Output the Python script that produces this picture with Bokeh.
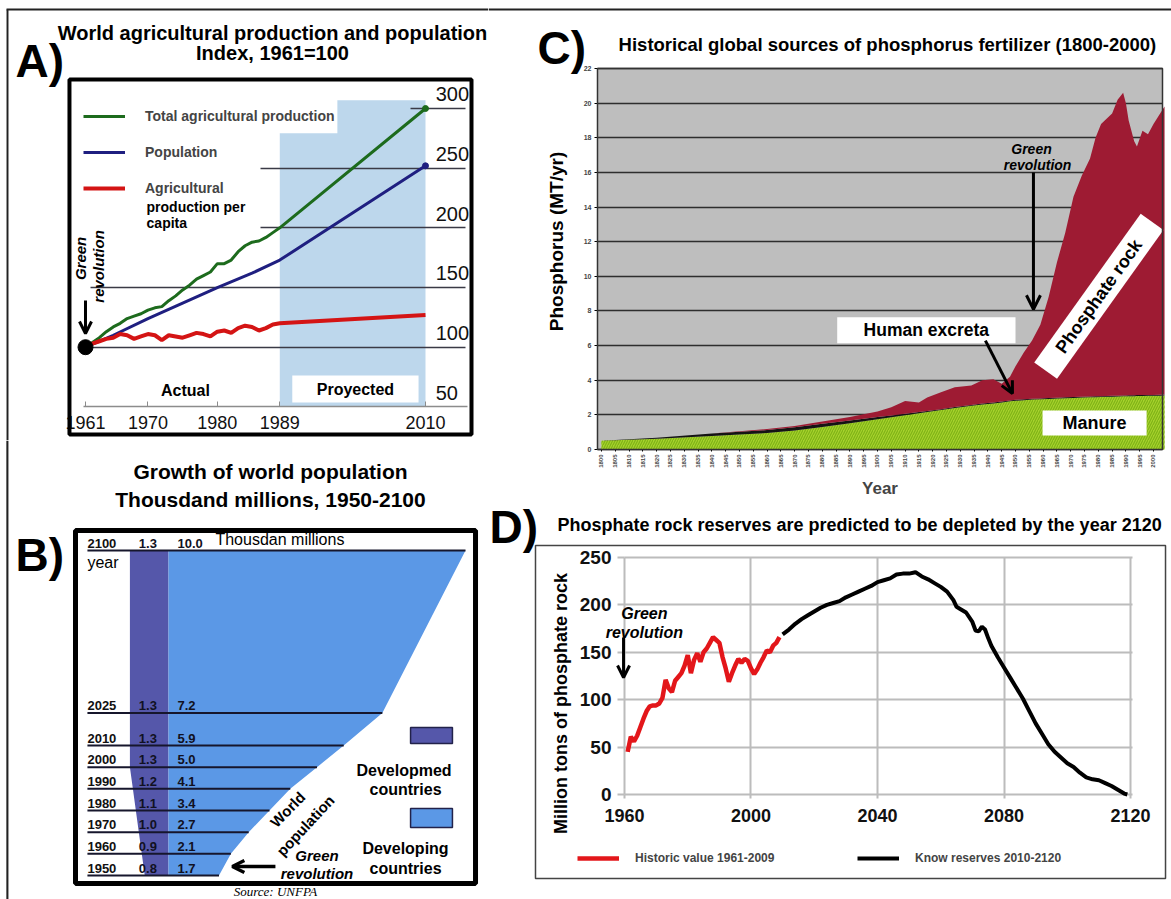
import numpy as np
from bokeh.plotting import figure
from bokeh.models import (Range1d, LinearAxis, FixedTicker, Grid, Label, Arrow,
                          OpenHead, BoxAnnotation, Legend, LegendItem)
from bokeh.layouts import row, column
from bokeh.embed import file_html
from bokeh.resources import INLINE
from bokeh.core.properties import value

FONT = "Liberation Sans"

# ---------------- Panel A data ----------------
a_years = [1961, 1962, 1963, 1964, 1965, 1966, 1967, 1968, 1969, 1970,
           1971, 1972, 1973, 1974, 1975, 1976, 1977, 1978, 1979, 1980,
           1981, 1982, 1983, 1984, 1985, 1986, 1987, 1988, 1989, 2010]
a_total = [100, 104, 108, 113, 117, 120, 124, 126, 128, 131,
           133, 134, 139, 143, 148, 152, 157, 160, 163, 170,
           170, 173, 180, 185, 188, 189, 192, 196, 200, 300]
a_capita = [100, 103, 105, 107, 108, 111, 110, 107, 109, 111,
            110, 106, 110, 109, 108, 110, 112, 111, 109, 113,
            114, 112, 116, 118, 117, 114, 116, 119, 120, 127]
a_pop_years = [1961, 1965, 1970, 1975, 1980, 1985, 1989, 2010]
a_pop = [100, 110, 124, 137, 150, 162, 173, 252]
a_xticks = [1961, 1970, 1980, 1989, 2010]
a_yticks = [50, 100, 150, 200, 250, 300]

# ---------------- Panel B data ----------------
b_years = [1950, 1960, 1970, 1980, 1990, 2000, 2010, 2025, 2100]
b_developed = [0.8, 0.9, 1.0, 1.1, 1.2, 1.3, 1.3, 1.3, 1.3]
b_world = [1.7, 2.1, 2.7, 3.4, 4.1, 5.0, 5.9, 7.2, 10.0]

# ---------------- Panel C data ----------------
c_years = [1800, 1820, 1840, 1850, 1860, 1870, 1880, 1890, 1900,
           1905, 1910, 1915, 1918, 1923, 1928, 1934, 1938, 1942, 1945,
           1948, 1950, 1953, 1956, 1959, 1962, 1965, 1968, 1971, 1974,
           1977, 1979, 1981, 1983, 1985, 1987, 1989, 1990, 1991, 1993,
           1994, 1996, 1998, 2000, 2002, 2004]
c_manure = [0.50, 0.62, 0.78, 0.86, 0.95, 1.10, 1.30, 1.52, 1.75,
            1.86, 1.98, 2.10, 2.16, 2.28, 2.40, 2.52, 2.60, 2.66, 2.72,
            2.78, 2.82, 2.85, 2.88, 2.90, 2.92, 2.94, 2.96, 2.98, 3.00,
            3.01, 3.02, 3.03, 3.04, 3.05, 3.06, 3.07, 3.07, 3.08, 3.08,
            3.09, 3.09, 3.10, 3.10, 3.11, 3.12]
c_excreta = [0.00, 0.06, 0.14, 0.16, 0.17, 0.18, 0.18, 0.16, 0.12,
             0.10, 0.08, 0.06, 0.06, 0.05, 0.05, 0.05, 0.05, 0.05, 0.05,
             0.05, 0.05, 0.05, 0.05, 0.05, 0.05, 0.05, 0.05, 0.05, 0.05,
             0.05, 0.05, 0.05, 0.05, 0.05, 0.05, 0.05, 0.05, 0.05, 0.05,
             0.05, 0.05, 0.05, 0.05, 0.05, 0.05]
c_rock = [0.00, 0.00, 0.00, 0.04, 0.06, 0.08, 0.14, 0.20, 0.33,
          0.48, 0.74, 0.56, 0.78, 0.97, 1.15, 1.13, 1.35, 1.34, 1.03,
          1.37, 1.93, 2.70, 3.37, 4.25, 5.83, 7.81, 9.49, 11.57, 12.75,
          13.74, 14.93, 15.72, 16.01, 16.30, 17.09, 17.48, 16.88, 15.87, 14.67,
          14.36, 15.26, 15.05, 15.65, 16.14, 16.63]
c_xticks = list(range(1800, 2001, 5))
c_yticks = list(range(0, 23, 2))

# ---------------- Panel D data ----------------
d_hist_years = list(range(1961, 2010))
d_hist = [45, 61, 56, 62, 71, 80, 88, 93, 94, 94,
          96, 102, 121, 112, 108, 120, 124, 128, 136, 147,
          128, 142, 149, 140, 150, 154, 160, 166, 163, 160,
          145, 133, 119, 128, 136, 143, 139, 143, 141, 133,
          127, 132, 139, 145, 152, 150, 157, 160, 166]
d_res_years = [2010, 2012, 2014, 2016, 2018, 2020, 2022, 2024, 2026, 2028,
               2030, 2032, 2034, 2036, 2038, 2040, 2042, 2044, 2046, 2048,
               2050, 2052, 2054, 2056, 2058, 2060, 2062,
               2064, 2065, 2066, 2068, 2070, 2071, 2072, 2073, 2074, 2075, 2076, 2078,
               2080, 2082, 2084, 2086, 2088, 2090, 2092, 2094, 2096, 2098,
               2100, 2102, 2104, 2106, 2108, 2110, 2112, 2114, 2116, 2118, 2119]
d_res = [169, 174, 180, 185, 189, 193, 197, 200, 202, 204,
         208, 211, 214, 217, 220, 224, 226, 228, 232, 233,
         233, 234.5, 230, 227, 223, 219, 214,
         205, 198, 196, 192, 182, 173, 172, 177, 174, 165, 157, 145,
         134, 123, 112, 101, 88, 75, 64, 53, 45, 39,
         33, 29, 23, 18, 16, 15, 12, 9, 5, 1, 0]
d_xticks = [1960, 2000, 2040, 2080, 2120]
d_yticks = [0, 50, 100, 150, 200, 250]


def make_fig(w, h, xr, yr):
    p = figure(width=w, height=h, x_range=Range1d(*xr), y_range=Range1d(*yr),
               output_backend="svg", toolbar_location=None,
               x_axis_type=None, y_axis_type=None, title=None,
               min_border_left=0, min_border_right=0,
               min_border_top=0, min_border_bottom=0)
    p.background_fill_color = "white"
    p.border_fill_color = "white"
    p.outline_line_color = None
    return p


def lab(p, x, y, text, size, style="bold", align="left", baseline="middle",
        angle=0.0, color="black", font=FONT):
    p.add_layout(Label(x=x, y=y, text=text, text_font=font, text_font_size=size,
                       text_font_style=style, text_align=align,
                       text_baseline=baseline, angle=angle, text_color=color))


def arrow(p, x0, y0, x1, y1, w=3, size=12):
    p.add_layout(Arrow(x_start=x0, y_start=y0, x_end=x1, y_end=y1,
                       line_width=w, line_color="black",
                       end=OpenHead(size=size, line_width=w, line_color="black")))


def box(p, l, r, b, t, fill=None, line=None, lw=1.0, level="underlay"):
    p.add_layout(BoxAnnotation(left=l, right=r, bottom=b, top=t,
                               fill_color=fill if fill else "white",
                               fill_alpha=1 if fill else 0,
                               line_color=line, line_width=lw, line_alpha=1,
                               level=level))


# ======================= Panel A =======================
pa = make_fig(488, 440, (1948.75, 2019.08), (21.83, 390.49))

box(pa, 1989, 2010, 50, 307, fill="#bdd7ec")
box(pa, 1960.3, 1997.3, 279.3, 308.6, fill="white")
box(pa, 1990.8, 2009.0, 53.6, 76.3, fill="white")

for ticks, xb in (([100, 150], (1961.7, 2015.8)),
                  ([200, 250], (1986.2, 2015.8)),
                  ([300], (2007.8, 2015.8))):
    pa.add_layout(Grid(dimension=1, ticker=FixedTicker(ticks=ticks), cross_bounds=xb,
                       grid_line_color="#3a3a46", grid_line_width=1.6))

xa = LinearAxis(fixed_location=50, ticker=FixedTicker(ticks=a_xticks),
                bounds=(1960.7, 2016.0), axis_line_color="#8c8c8c", axis_line_width=1.5,
                major_tick_in=5, major_tick_out=0, major_tick_line_color="#8c8c8c",
                minor_tick_line_color=None, major_label_standoff=9,
                major_label_text_font=FONT, major_label_text_font_size="18px",
                major_label_text_color="#111111")
pa.add_layout(xa, "below")
pa.extra_y_ranges = {"lab": Range1d(21.83 - 11.8, 390.49 - 11.8)}
ya = LinearAxis(y_range_name="lab", fixed_location=2010.6,
                ticker=FixedTicker(ticks=a_yticks), axis_line_color=None,
                major_tick_line_color=None, minor_tick_line_color=None,
                major_label_standoff=0, major_label_text_font=FONT,
                major_label_text_font_size="20px", major_label_text_color="#111111")
pa.add_layout(ya, "right")

r_tot = pa.line(a_years, a_total, line_color="#1d6b1d", line_width=3)
r_pop = pa.line(a_pop_years, a_pop, line_color="#1f1f80", line_width=3)
r_cap = pa.line(a_years, a_capita, line_color="#d41414", line_width=4)
pa.scatter([a_years[-1]], [a_total[-1]], size=6, color="#1d6b1d")
pa.scatter([a_pop_years[-1]], [a_pop[-1]], size=6, color="#1f1f80")
pa.scatter([a_years[0]], [a_total[0]], size=15, color="black")

leg_a = Legend(items=[LegendItem(label="Total agricultural production", renderers=[r_tot]),
                      LegendItem(label="Population", renderers=[r_pop]),
                      LegendItem(label="Agricultural", renderers=[r_cap])],
               location=(83, 244), glyph_width=42, glyph_height=14, label_height=14,
               spacing=20, padding=0, margin=0, label_standoff=20,
               border_line_color=None, background_fill_alpha=0,
               label_text_font=FONT, label_text_font_size="14px",
               label_text_font_style="bold")
pa.add_layout(leg_a)
lab(pa, 1969.8, 217.4, "production per", "14px")
lab(pa, 1969.8, 204.0, "capita", "14px")

lab(pa, 1975.4, 63.7, "Actual", "16px", align="center")
lab(pa, 1999.9, 64.9, "Proyected", "16px", align="center")
lab(pa, 1960.28, 174.4, "Green", "15px", style="bold italic", align="center", angle=np.pi / 2)
lab(pa, 1962.87, 167.7, "revolution", "15px", style="bold italic", align="center", angle=np.pi / 2)
arrow(pa, 1961, 139.1, 1961, 111.5, w=3, size=12)

lab(pa, 1987.95, 363.0, "World agricultural production and population", "20px", align="center")
lab(pa, 1987.95, 346.2, "Index, 1961=100", "20px", align="center")
lab(pa, 1950.91, 339.4, "A)", "46px")

# frame of panel A and page border
box(pa, 1958.69, 2016.63, 26.85, 324.3, line="black", lw=4, level="annotation")
box(pa, 1949.62, 1949.90, 21.83, 383.0, fill="#222222", level="annotation")
box(pa, 1949.62, 2019.08, 382.1, 383.8, fill="#222222", level="annotation")

# ======================= Panel B =======================
pb = make_fig(488, 459, (-5.657, 10.774), (1938.92, 2150.77))

n_b = len(b_years)
zeros_b = [0.0] * n_b
neg_dev = [-d for d in b_developed]
pb.harea(x1=neg_dev, x2=zeros_b, y=b_years, fill_color="#5557aa")
pb.harea(x1=zeros_b, x2=b_world, y=b_years, fill_color="#5b98e6")
row_left = [-2.73] * n_b
pb.segment(x0=row_left, y0=b_years, x1=b_world, y1=b_years,
           line_color="#16162c", line_width=2)

lab_y = [y + 1.3 for y in b_years]
pb.text(x=row_left, y=lab_y, text=[str(y) for y in b_years],
        text_font=value(FONT), text_font_size="13px", text_font_style="bold",
        text_baseline="bottom", text_align="left", text_color="#111111")
pb.text(x=[-1.0] * n_b, y=lab_y, text=["%.1f" % d for d in b_developed],
        text_font=value(FONT), text_font_size="13px", text_font_style="bold",
        text_baseline="bottom", text_align="left", text_color="#111122")
pb.text(x=[0.3] * n_b, y=lab_y, text=["%.1f" % w for w in b_world],
        text_font=value(FONT), text_font_size="13px", text_font_style="bold",
        text_baseline="bottom", text_align="left", text_color="#111122")
lab(pb, 1.58, 2101.3, "Thousdan millions", "16px", style="normal", baseline="bottom")
lab(pb, -2.73, 2094.5, "year", "16px", style="normal")

box(pb, 8.15, 9.56, 2010.9, 2018.3, fill="#5557aa", line="#22224a", lw=1.5, level="annotation")
box(pb, 8.15, 9.56, 1972.2, 1980.9, fill="#5b98e6", line="#22224a", lw=1.5, level="annotation")
lab(pb, 7.93, 1998.5, "Developmed", "16px", align="center")
lab(pb, 7.98, 1989.5, "countries", "16px", align="center")
lab(pb, 7.98, 1962.5, "Developing", "16px", align="center")
lab(pb, 7.98, 1953.4, "countries", "16px", align="center")
lab(pb, 4.01, 1980.5, "World", "15px", align="center", angle=0.80)
lab(pb, 4.61, 1973.1, "population", "15px", align="center", angle=0.82)
lab(pb, 5.0, 1959.2, "Green", "15px", style="bold italic", align="center")
lab(pb, 5.0, 1950.9, "revolution", "15px", style="bold italic", align="center")
arrow(pb, 3.6, 1954.15, 2.15, 1954.15, w=3.5, size=12)
lab(pb, 3.6, 1942.6, "Source: UNFPA", "13px", style="italic", align="center",
    font="Liberation Serif")

lab(pb, 3.434, 2136.3, "Growth of world population", "21px", align="center")
lab(pb, 3.434, 2123.4, "Thousdand millions, 1950-2100", "21px", align="center")
lab(pb, -5.15, 2098.0, "B)", "46px")

box(pb, -3.131, 10.337, 1946.31, 2109.23, line="black", lw=5, level="annotation")
box(pb, -5.46, -5.39, 1938.92, 2150.77, fill="#222222", level="annotation")

# ======================= Panel C =======================
pc = make_fig(683, 500, (1759.06, 2006.52), (-2.945, 25.926))
C_L, C_R = 1798.55, 2003.26

box(pc, C_L, C_R, 0, 22, fill="#bebebe")
pc.add_layout(Grid(dimension=1, ticker=FixedTicker(ticks=c_yticks), cross_bounds=(C_L, C_R),
                   grid_line_color="#1e1e1e", grid_line_width=1.6, grid_line_alpha=0.9))

c_m = np.array(c_manure)
c_me = c_m + np.array(c_excreta)
c_all = c_me + np.array(c_rock)
pc.varea(x=c_years, y1=np.zeros(len(c_years)), y2=c_m, fill_color="#a6d22c",
         hatch_pattern="/", hatch_color="#7fb316", hatch_scale=5, hatch_weight=1.2)
pc.varea(x=c_years, y1=c_m, y2=c_me, fill_color="#141414")
pc.varea(x=c_years, y1=c_me, y2=c_all, fill_color="#9e1b33")

cy = LinearAxis(fixed_location=C_L, bounds=(0, 22), ticker=FixedTicker(ticks=c_yticks),
                axis_line_color="#333333", major_tick_out=3, major_tick_in=0,
                minor_tick_line_color=None, major_label_standoff=3,
                major_label_text_font=FONT, major_label_text_font_size="7px",
                major_label_text_font_style="bold")
pc.add_layout(cy, "left")
cx = LinearAxis(fixed_location=0, bounds=(C_L, C_R), ticker=FixedTicker(ticks=c_xticks),
                axis_line_color="#333333", major_tick_out=2, major_tick_in=0,
                minor_tick_line_color=None, major_label_standoff=3,
                major_label_orientation=np.pi / 2,
                major_label_text_font=FONT, major_label_text_font_size="6px",
                major_label_text_font_style="bold",
                axis_label="Year", axis_label_standoff=8,
                axis_label_text_font=FONT, axis_label_text_font_size="17px",
                axis_label_text_font_style="bold")
pc.add_layout(cx, "below")

box(pc, 1885.4, 1950.0, 6.14, 7.64, fill="white", level="annotation")
box(pc, 1959.8, 1997.5, 0.81, 2.25, fill="white", level="annotation")
pc.rect(x=[1980.2], y=[8.85], width=183, height=28, width_units="screen",
        height_units="screen", angle=0.95, fill_color="white", line_color=None)
lab(pc, 1917.7, 6.89, "Human excreta", "17.5px", align="center")
lab(pc, 1978.6, 1.53, "Manure", "18px", align="center")
lab(pc, 1980.2, 8.85, "Phosphate rock", "18px", align="center", angle=0.95)
lab(pc, 1955.8, 17.38, "Green", "14px", style="bold italic", align="center")
lab(pc, 1958.0, 16.45, "revolution", "14px", style="bold italic", align="center")
arrow(pc, 1956.5, 16.0, 1956.5, 8.1, w=3, size=14)
arrow(pc, 1939.1, 6.29, 1948.9, 3.23, w=3, size=12)
box(pc, C_L, C_R, 0, 22, line="#333333", lw=1.5, level="annotation")

lab(pc, 1806.2, 23.39, "Historical global sources of phosphorus fertilizer (1800-2000)", "18.5px")
lab(pc, 1776.8, 23.2, "C)", "46px")
lab(pc, 1783.7, 12.01, "Phosphorus (MT/yr)", "19px", align="center", angle=np.pi / 2)
box(pc, 1759.06, 2006.52, 25.35, 25.47, fill="#222222", level="annotation")

# ======================= Panel D =======================
pdd = make_fig(683, 399, (1917.0, 2132.96), (-110.76, 310.13))

pdd.add_layout(Grid(dimension=0, ticker=FixedTicker(ticks=d_xticks), cross_bounds=(0, 250),
                    grid_line_color="#bcbcbc", grid_line_width=2))
pdd.add_layout(Grid(dimension=1, ticker=FixedTicker(ticks=d_yticks), cross_bounds=(1960, 2120.5),
                    grid_line_color="#bcbcbc", grid_line_width=2))
dy = LinearAxis(fixed_location=1960, ticker=FixedTicker(ticks=d_yticks), axis_line_color=None,
                major_tick_out=7, major_tick_in=0, major_tick_line_color="#bcbcbc",
                major_tick_line_width=2, minor_tick_line_color=None, major_label_standoff=6,
                major_label_text_font=FONT, major_label_text_font_size="19px",
                major_label_text_font_style="bold", major_label_text_color="#111111")
pdd.add_layout(dy, "left")
dx = LinearAxis(fixed_location=0, ticker=FixedTicker(ticks=d_xticks), axis_line_color=None,
                major_tick_out=4, major_tick_in=0, major_tick_line_color="#bcbcbc",
                major_tick_line_width=2, minor_tick_line_color=None, major_label_standoff=10,
                major_label_text_font=FONT, major_label_text_font_size="18px",
                major_label_text_font_style="bold", major_label_text_color="#111111")
pdd.add_layout(dx, "below")

r_hist = pdd.line(d_hist_years, d_hist, line_color="#e3161a", line_width=4.5)
r_res = pdd.line(d_res_years, d_res, line_color="black", line_width=4)

for item, loc in ((LegendItem(label="Historic value 1961-2009", renderers=[r_hist]), (89, 33)),
                  (LegendItem(label="Know reserves 2010-2120", renderers=[r_res]), (369, 33))):
    pdd.add_layout(Legend(items=[item], location=loc, glyph_width=42, glyph_height=16,
                          label_height=16, label_standoff=16, padding=0, margin=0,
                          border_line_color=None, background_fill_alpha=0,
                          label_text_font=FONT, label_text_font_size="12px",
                          label_text_font_style="bold"))

lab(pdd, 1966.3, 191.0, "Green", "16px", style="bold italic", align="center")
lab(pdd, 1966.3, 171.0, "revolution", "16px", style="bold italic", align="center")
arrow(pdd, 1959.7, 165.6, 1959.7, 123.4, w=3, size=12)
lab(pdd, 1939.8, 96.0, "Million tons of phosphate rock", "18px", align="center", angle=np.pi / 2)
lab(pdd, 1938.8, 283.8, "Phosphate rock reserves are predicted to be depleted by the year 2120", "18px")
lab(pdd, 1917.3, 282.0, "D)", "46px")
box(pdd, 1931.86, 2131.07, -88.6, 262.66, line="#444444", lw=1.5, level="annotation")

layout = row(column(pa, pb), column(pc, pdd))
open("out.html", "w").write(file_html(layout, INLINE))
